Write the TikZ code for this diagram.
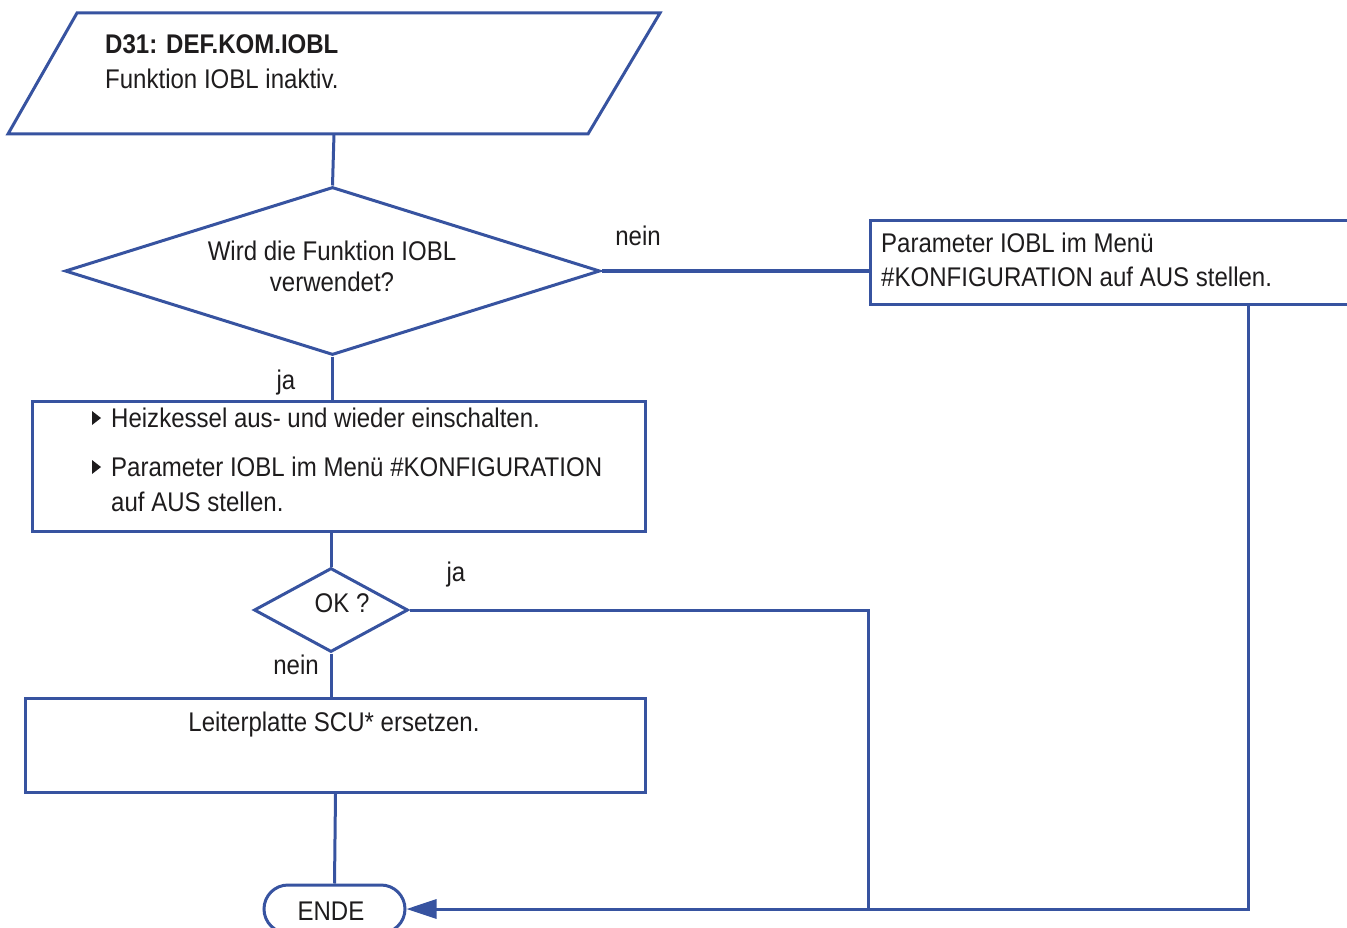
\documentclass[tikz,border=0pt]{standalone}
\usepackage{fontspec}
\setmainfont{Liberation Sans}[FakeStretch=0.89]
\usetikzlibrary{shapes.geometric,shapes.misc,arrows.meta}
\definecolor{flowblue}{RGB}{55,83,160}
\definecolor{ink}{RGB}{30,28,29}
\begin{document}
\begin{tikzpicture}[x=1pt,y=-1pt,
  font=\fontsize{27}{35}\selectfont, text=ink,
  flow/.style={draw=flowblue,line width=3pt},
  block/.style={flow, rectangle, inner sep=0pt, anchor=north west},
  decision/.style={flow, diamond, inner sep=0pt},
  txt/.style={anchor=base west, inner sep=0pt},
  ctxt/.style={anchor=base, inner sep=0pt},
  arrowin/.style={flow,-{Triangle[length=30pt,width=19pt]}},
  bulletmark/.style={fill=ink}]
\clip (0,0) rectangle (1347,928);

% start: parallelogram with the fault code
\draw[flow] (77,13) -- (660,13) -- (588,134) -- (8,134) -- cycle;
\coordinate (start) at (334,134);
\node[txt] (code) at (105,54) {\bfseries D31: DEF.KOM.IOBL};
\node[txt] (codetxt) at (105,89) {Funktion IOBL inaktiv.};

% question: function used?
\node[decision, minimum width=535pt, minimum height=168pt] (q1) at (332.5,271) {};
\node[ctxt] (q1a) at (332,261) {Wird die Funktion IOBL};
\node[ctxt] (q1b) at (332,291) {verwendet?};

% right branch: switch parameter off
\node[block, minimum width=540pt, minimum height=84pt] (rbox) at (869,219) {};
\node[txt] (r1) at (881,252) {Parameter IOBL im Menü};
\node[txt] (r2) at (881,287) {\#KONFIGURATION auf AUS stellen.};

% actions
\node[block, minimum width=613pt, minimum height=130pt] (act) at (31,400) {};
\fill[bulletmark] (92,411) -- (101,418) -- (92,425) -- cycle;
\fill[bulletmark] (92,460) -- (101,467) -- (92,474) -- cycle;
\node[txt] (a1) at (111,427) {Heizkessel aus- und wieder einschalten.};
\node[txt] (a2) at (111,476) {Parameter IOBL im Menü \#KONFIGURATION};
\node[txt] (a3) at (111,511) {auf AUS stellen.};

% check
\node[decision, minimum width=154pt, minimum height=84pt] (ok) at (331,610) {};
\node[ctxt] (oktxt) at (342,612.5) {OK ?};

% replace board
\node[block, minimum width=620pt, minimum height=94pt] (repl) at (24,697) {};
\node[ctxt] (repltxt) at (334,731.5) {Leiterplatte SCU* ersetzen.};

% end terminal
\node[flow, rounded rectangle, minimum width=141pt, minimum height=48pt, inner sep=0pt] (ende) at (334.5,909) {};
\node[ctxt] (endetxt) at (331,920.5) {ENDE};

% branch labels
\node[ctxt] (lnein1) at (638,246) {nein};
\node[ctxt] (lja1) at (286,389) {ja};
\node[ctxt] (lja2) at (456,581) {ja};
\node[ctxt] (lnein2) at (296,674) {nein};

% connectors
\coordinate (rj) at (1248,909);
\coordinate (okj) at (868,909);
\draw[flow] (start) -- (q1.north);
\draw[flow] (q1.east) -- (q1.east -| rbox.west);
\draw[flow] (q1.south) -- (q1.south |- act.north);
\draw[flow] (act.south -| ok.north) -- (ok.north);
\draw[flow] (ok.south) -- (ok.south |- repl.north);
\draw[flow] (repl.south) -- (ende.north);
\draw[flow] (ok.east) -| (okj);
\draw[arrowin] (rbox.south -| rj) -- (rj) -- (ende.east);
\end{tikzpicture}
\end{document}
